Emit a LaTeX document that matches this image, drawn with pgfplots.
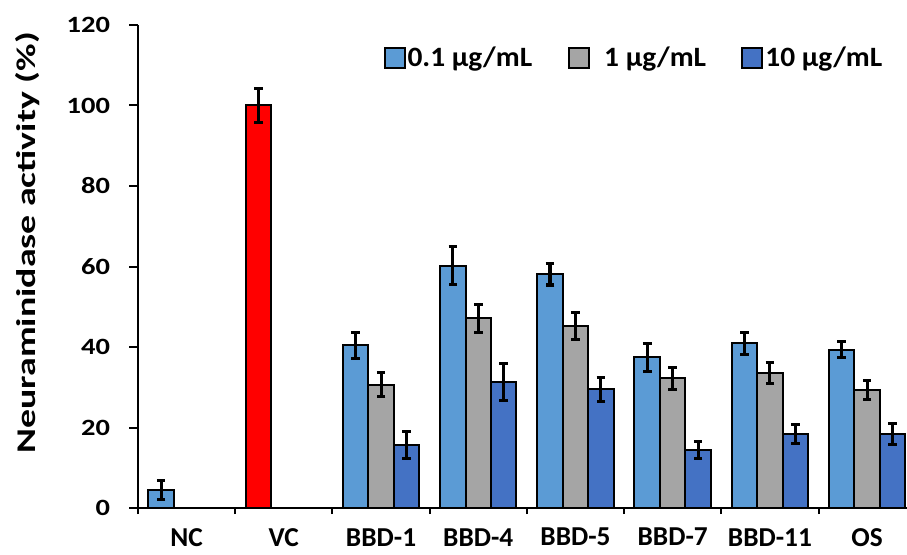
\documentclass[border=0pt]{standalone}
\usepackage{pgfplots}
\pgfplotsset{compat=1.18}
\usepackage{fontspec}
\setmainfont{Carlito}
\newfontfamily\tickfont{Carlito}[FakeStretch=1.22]
\newfontfamily\legfont{Carlito}[FakeStretch=1.05]
\newfontfamily\labfont{Carlito}[FakeStretch=1.4]
\definecolor{lblue}{HTML}{5B9BD5}
\definecolor{mgray}{HTML}{A5A5A5}
\definecolor{dblue}{HTML}{4472C4}
\definecolor{vcred}{HTML}{FF0000}

% x = category position + bar offset, y = activity, e = error
\pgfplotstableread{
x y e
-0.262 4.5 2.3
1.738 40.4 3.3
2.738 60.2 4.7
3.738 58.1 2.7
4.738 37.4 3.5
5.738 40.9 2.8
6.738 39.3 2.0
}\lowdose
\pgfplotstableread{
x y e
2 30.6 3.0
3 47.1 3.5
4 45.2 3.4
5 32.2 2.7
6 33.5 2.6
7 29.3 2.3
}\middose
\pgfplotstableread{
x y e
2.262 15.7 3.4
3.262 31.2 4.6
4.262 29.5 3.0
5.262 14.4 2.2
6.262 18.4 2.4
7.262 18.4 2.6
}\highdose
\pgfplotstableread{
x y e
0.738 100 4.3
}\vcdata

\begin{document}
\begin{tikzpicture}
\begin{axis}[
  at={(0pt,0pt)}, anchor=south west,
  scale only axis, width=576.75pt, height=362.25pt,
  xmin=-0.5, xmax=7.41, ymin=0, ymax=120,
  axis x line=bottom, axis y line=left,
  axis line style={-, line width=1.5pt},
  tick align=outside, major tick length=6.5pt,
  tick style={line width=1.5pt, black},
  ytick={0,20,...,120},
  xtick={-0.5,0.5,...,6.5}, xticklabels={},
  xtick style={/pgfplots/major tick length=4.5pt},
  extra x ticks={0,1,...,7},
  extra x tick labels={NC,VC,BBD-1,BBD-4,BBD-5,BBD-7,BBD-11,OS},
  extra x tick style={major tick length=0pt, tick style={draw=none},
    xticklabel style={font=\bfseries\fontsize{20.5}{23}\selectfont,
      inner sep=0pt, anchor=north, yshift=-15pt}},
  /pgf/number format/assume math mode=true,
  yticklabel style={font=\tickfont\bfseries\fontsize{17.5}{20}\selectfont, xshift=-11pt},
  ylabel={Neuraminidase activity (\%)},
  ylabel style={font=\labfont\bfseries\fontsize{20.25}{22}\selectfont,
    at={(axis description cs:-0.143,0.549)}, anchor=center},
  ybar, bar width=0.262, bar shift=0pt,
  every axis plot/.append style={draw=black, line width=1.5pt},
  error bars/y dir=both, error bars/y explicit,
  error bars/error bar style={line width=2.3pt, black},
  error bars/error mark options={rotate=90, mark size=3.2pt, line width=2.3pt, black},
  legend columns=3,
  legend style={draw=none, fill=none, at={(axis description cs:0.319,0.932)},
    anchor=west, inner sep=0pt,
    font=\legfont\bfseries\fontsize{21}{24}\selectfont,
    nodes={inner xsep=1.5pt},
    /tikz/every even column/.append style={column sep=25pt}},
  legend image code/.code={\draw[#1, line width=1.5pt] (0pt,-7.5pt) rectangle (15pt,7.5pt);},
]
\addplot[fill=lblue] table[x=x, y=y, y error=e] {\lowdose};
\addlegendentry{0.1 µg/mL}
\addplot[fill=mgray] table[x=x, y=y, y error=e] {\middose};
\addlegendentry{\hspace*{9.5pt}1 µg/mL}
\addplot[fill=dblue] table[x=x, y=y, y error=e] {\highdose};
\addlegendentry{10 µg/mL}
\addplot[fill=vcred, forget plot] table[x=x, y=y, y error=e] {\vcdata};
\end{axis}
\pgfresetboundingbox
\path[use as bounding box] (-103.5pt,-34.5pt) rectangle (576.75pt,381pt);
\end{tikzpicture}
\end{document}
